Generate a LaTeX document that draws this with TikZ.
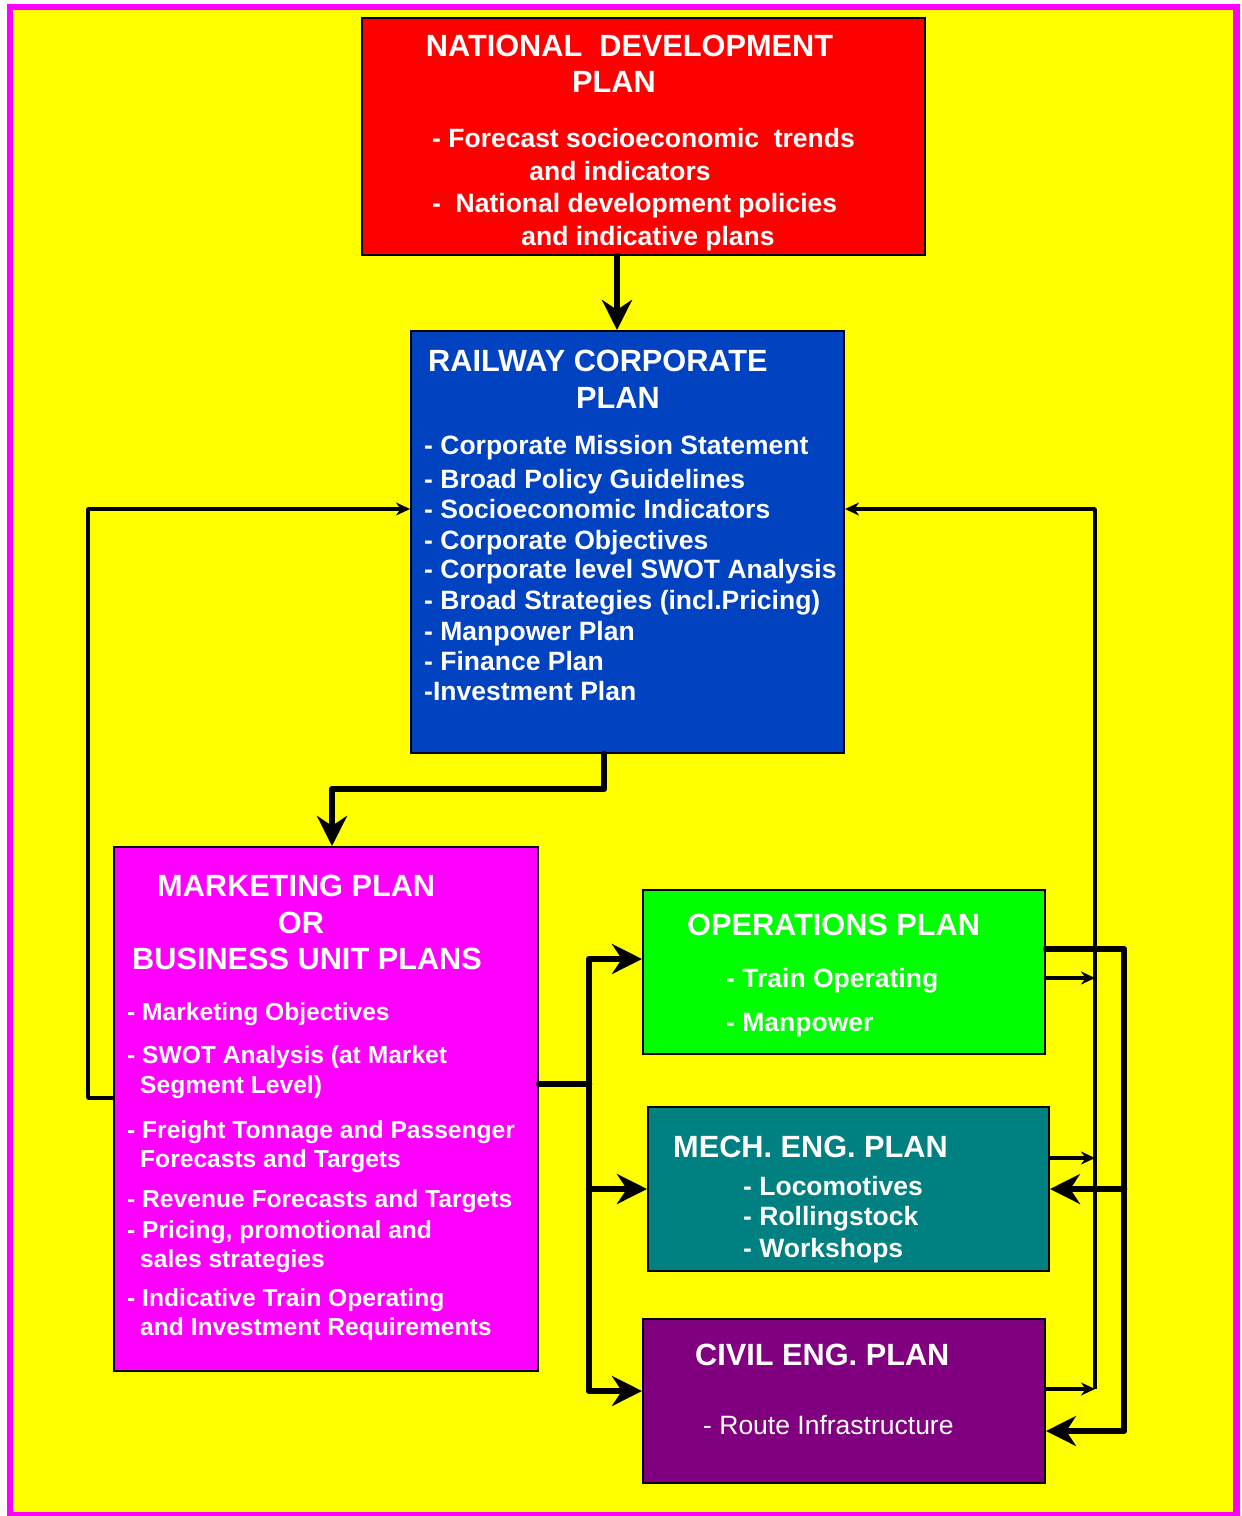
\documentclass[tikz,border=0pt]{standalone}
\usepackage{fontspec}
\setmainfont{Liberation Sans}
\usetikzlibrary{arrows.meta}
\definecolor{nat}{RGB}{255, 0, 0}
\definecolor{cor}{RGB}{0, 66, 192}
\definecolor{mkt}{RGB}{255, 0, 255}
\definecolor{ops}{RGB}{0, 255, 0}
\definecolor{mec}{RGB}{0, 128, 128}
\definecolor{civ}{RGB}{128, 0, 128}
\definecolor{bg}{RGB}{255, 255, 0}

\tikzset{
  box/.style={draw=black, line width=2pt, anchor=north west, inner sep=0pt},
  tit/.style={text=white, inner sep=0pt, font=\fontsize{30.7}{36}\selectfont\bfseries},
  itm/.style={text=white, inner sep=0pt, anchor=base west, font=\fontsize{26.5}{31}\selectfont\bfseries},
  sitm/.style={itm, font=\fontsize{24.6}{29}\selectfont\bfseries},
  bigarr/.style={line width=6.5pt, line join=round, line cap=round, -{Stealth[length=30pt, width=30pt]}},
  bigline/.style={line width=6.5pt, line join=round, line cap=round},
  fbarr/.style={line width=3.5pt, line join=round, -{Stealth[length=14pt, width=13pt]}}
}

\begin{document}
\begin{tikzpicture}[x=1pt, y=-1pt]
            \useasboundingbox (0, 0) rectangle (1242, 1516);
            \draw[color=mkt, line width=6.5pt, fill=bg] (10, 7) rectangle (1236.5, 1515);

            \node[box, fill=nat, minimum width=563pt, minimum height=237pt] (a) at (361, 17) {};
            \node[box, fill=cor, minimum width=433pt, minimum height=422pt] (b) at (410, 330) {};
            \node[box, fill=mkt, minimum width=424pt, minimum height=524pt] (c) at (113, 846) {};
            \node[box, fill=ops, minimum width=402pt, minimum height=164pt] (d) at (642, 889) {};
            \node[box, fill=mec, minimum width=401pt, minimum height=164pt] (e) at (647, 1106) {};
            \node[box, fill=civ, minimum width=402pt, minimum height=164pt] (f) at (642, 1318) {};

            \node[tit, anchor=base] (a1) at (629.5, 56) {NATIONAL~~DEVELOPMENT};
            \node[tit, anchor=base] (a2) at (614, 92) {PLAN};
            \node[itm] (a3) at (432, 147) {- Forecast socioeconomic~~trends};
            \node[itm, anchor=base] (a4) at (620, 180) {and indicators};
            \node[itm] (a5) at (432, 212) {-~~National development policies};
            \node[itm, anchor=base] (a6) at (648, 245) {and indicative plans};

            \node[tit, anchor=base west] (b1) at (428, 371) {RAILWAY CORPORATE};
            \node[tit, anchor=base] (b2) at (618, 408) {PLAN};
            \node[itm] (b3) at (424, 454) {- Corporate Mission Statement};
            \node[itm] (b4) at (424, 488) {- Broad Policy Guidelines};
            \node[itm] (b5) at (424, 518) {- Socioeconomic Indicators};
            \node[itm] (b6) at (424, 549) {- Corporate Objectives};
            \node[itm] (b7) at (424, 578) {- Corporate level SWOT Analysis};
            \node[itm] (b8) at (424, 609) {- Broad Strategies (incl.Pricing)};
            \node[itm] (b9) at (424, 640) {- Manpower Plan};
            \node[itm] (b10) at (424, 670) {- Finance Plan};
            \node[itm] (b11) at (424, 700) {-Investment Plan};

            \node[tit, anchor=base west] (c1) at (157, 896) {MARKETING PLAN};
            \node[tit, anchor=base] (c2) at (301, 933) {OR};
            \node[tit, anchor=base west] (c3) at (132, 969) {BUSINESS UNIT PLANS};
            \node[sitm] (c4) at (127, 1020) {- Marketing Objectives};
            \node[sitm] (c5) at (127, 1063) {- SWOT Analysis (at Market};
            \node[sitm] (c6) at (140, 1093) {Segment Level)};
            \node[sitm] (c7) at (127, 1138) {- Freight Tonnage and Passenger};
            \node[sitm] (c8) at (140, 1167) {Forecasts and Targets};
            \node[sitm] (c9) at (127, 1207) {- Revenue Forecasts and Targets};
            \node[sitm] (c10) at (127, 1238) {- Pricing, promotional and};
            \node[sitm] (c11) at (140, 1267) {sales strategies};
            \node[sitm] (c12) at (127, 1306) {- Indicative Train Operating};
            \node[sitm] (c13) at (140, 1335) {and Investment Requirements};

            \node[tit, anchor=base west] (d1) at (687, 935) {OPERATIONS PLAN};
            \node[itm] (d2) at (726, 987) {- Train Operating};
            \node[itm] (d3) at (726, 1031) {- Manpower};

            \node[tit, anchor=base west] (e1) at (673, 1157) {MECH. ENG. PLAN};
            \node[itm] (e2) at (743, 1195) {- Locomotives};
            \node[itm] (e3) at (743, 1225) {- Rollingstock};
            \node[itm] (e4) at (743, 1257) {- Workshops};

            \node[tit, anchor=base west] (f1) at (695, 1365) {CIVIL ENG. PLAN};
            \node[itm, font=\fontsize{26.5}{31}\selectfont] (f2) at (703, 1434) {- Route Infrastructure};

            \draw[bigarr] ([xshift=-26.5pt]a.south) -- ([xshift=-10.5pt]b.north);
            \draw[bigarr] ([xshift=-23.5pt]b.south) -- ++(0, 35) -| ([xshift=6pt]c.north);
            \draw[bigline] ([yshift=25pt]c.east) -- ++(50, 0) coordinate (bus);
            \draw[bigarr] (bus) |- ([yshift=13pt]d.west);
            \draw[bigarr] (bus) |- ([yshift=10pt]f.west);
            \draw[bigarr] (bus |- e.west) -- (e.west);

            \draw[fbarr] ([yshift=11pt]c.west) -- ++(-25, 0) |- ([yshift=33pt]b.west);
            \draw[fbarr] ([yshift=12pt]f.east) -- ++(49, 0) coordinate (fb);
            \draw[fbarr] (fb) |- ([yshift=33pt]b.east);
            \draw[fbarr] ([yshift=-6pt]d.east) -- ([yshift=-6pt]d.east -| fb);
            \draw[fbarr] ([yshift=31pt]e.east) -- ([yshift=31pt]e.east -| fb);

            \draw[bigarr] ([yshift=23pt]d.east) -- ++(78, 0) coordinate (rb) |- ([yshift=-30pt]f.east);
            \draw[bigarr] (rb |- e.east) -- (e.east);
        \end{tikzpicture}
\end{document}
